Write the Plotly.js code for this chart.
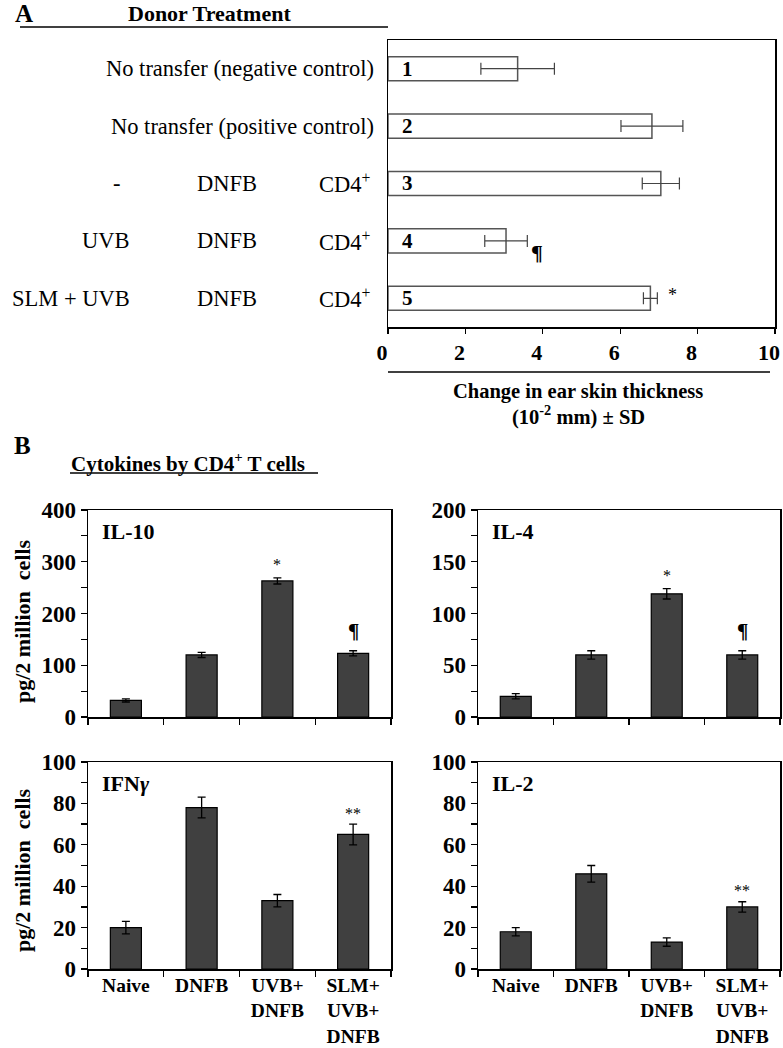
<!DOCTYPE html>
<html>
<head>
<meta charset="utf-8">
<script src="https://cdn.plot.ly/plotly-3.0.1.min.js"></script>
<style>html,body{margin:0;padding:0;background:#fff;}#chart{width:783px;height:1048px;}</style>
</head>
<body>
<div id="chart"></div>
<script>
// ---------- Panel A data ----------
const aRows = [0, 1, 2, 3, 4];
const aValues = [3.35, 6.82, 7.05, 3.05, 6.78];
const aErrors = [0.95, 0.8, 0.48, 0.55, 0.18];
const aBarLabels = ['1', '2', '3', '4', '5'];
const aFullLabels = ['No transfer (negative control)', 'No transfer (positive control)', null, null, null];
const aDonorCol1 = [null, null, '-', 'UVB', 'SLM + UVB'];
const aDonorCol2 = [null, null, 'DNFB', 'DNFB', 'DNFB'];
const aDonorCol3 = [null, null, 'CD4<sup>+</sup>', 'CD4<sup>+</sup>', 'CD4<sup>+</sup>'];
const aMarks = ['', '', '', '¶', '*'];
const aTicks = [0, 2, 4, 6, 8, 10];

// ---------- Panel B data ----------
const bCategories = ['Naive', 'DNFB', 'UVB+<br>DNFB', 'SLM+<br>UVB+<br>DNFB'];
const il10 = [32, 120, 263, 123];
const il10Err = [3, 5, 6, 5];
const il10Marks = ['', '', '*', '¶'];
const il4 = [20, 60, 119, 60];
const il4Err = [2.5, 4, 5, 4];
const il4Marks = ['', '', '*', '¶'];
const ifng = [20, 78, 33, 65];
const ifngErr = [3, 5, 3, 5];
const ifngMarks = ['', '', '', '**'];
const il2 = [18, 46, 13, 30];
const il2Err = [2, 4, 2, 2.5];
const il2Marks = ['', '', '', '**'];

// ---------- helpers ----------
const W = 783, H = 1048;
const px = v => v / W;
const py = v => 1 - v / H;
const SERIF = 'Liberation Serif';
const font = (size, bold) => ({family: SERIF, size: size, color: '#000000', weight: bold ? 'bold' : 'normal'});
const markOffset = {'*': 0.065, '**': 0.053, '¶': 0.097};

const traces = [];
const annotations = [];
const shapes = [];

// Panel A bars
traces.push({
  type: 'bar', orientation: 'h', x: aValues, y: aRows,
  xaxis: 'x', yaxis: 'y', width: 0.42,
  marker: {color: '#ffffff', line: {color: '#555555', width: 1.5}},
  error_x: {type: 'data', array: aErrors, visible: true, color: '#444444', thickness: 1.2, width: 6},
  hoverinfo: 'skip', showlegend: false
});
aRows.forEach((r, i) => {
  annotations.push({xref: 'x', yref: 'y', x: 0.5, y: r, text: '<b>' + aBarLabels[i] + '</b>', showarrow: false, font: font(21, true), xanchor: 'center', yanchor: 'middle'});
  if (aFullLabels[i]) annotations.push({xref: 'paper', yref: 'y', x: px(376), y: r, text: aFullLabels[i], showarrow: false, font: font(22.5, false), xanchor: 'right', yanchor: 'middle'});
  if (aDonorCol1[i]) {
    const isDash = aDonorCol1[i] === '-';
    annotations.push({xref: 'paper', yref: 'y', x: isDash ? px(117) : px(132), y: r, text: aDonorCol1[i], showarrow: false, font: font(22.5, false), xanchor: isDash ? 'center' : 'right', yanchor: 'middle'});
  }
  if (aDonorCol2[i]) annotations.push({xref: 'paper', yref: 'y', x: px(227), y: r, text: aDonorCol2[i], showarrow: false, font: font(22.5, false), xanchor: 'center', yanchor: 'middle'});
  if (aDonorCol3[i]) annotations.push({xref: 'paper', yref: 'y', x: px(373), y: r, text: aDonorCol3[i], showarrow: false, font: font(22.5, false), xanchor: 'right', yanchor: 'middle'});
  if (aMarks[i] === '¶') annotations.push({xref: 'x', yref: 'y', x: aValues[i] + aErrors[i] + 0.25, y: r + 0.2, text: '¶', showarrow: false, font: font(22, true), xanchor: 'center', yanchor: 'middle'});
  if (aMarks[i] === '*') annotations.push({xref: 'x', yref: 'y', x: aValues[i] + aErrors[i] + 0.4, y: r - 0.05, text: '*', showarrow: false, font: font(18, false), xanchor: 'center', yanchor: 'middle'});
});

// Panel A text
annotations.push({xref: 'paper', yref: 'paper', x: px(13), y: py(13), text: '<b>A</b>', showarrow: false, font: font(25, true), xanchor: 'left', yanchor: 'middle'});
annotations.push({xref: 'paper', yref: 'paper', x: px(209), y: py(13), text: '<b>Donor Treatment</b>', showarrow: false, font: font(22, true), xanchor: 'center', yanchor: 'middle'});
shapes.push({type: 'line', xref: 'paper', yref: 'paper', x0: px(20), x1: px(388), y0: py(27), y1: py(27), line: {color: '#000', width: 1.5}});
shapes.push({type: 'line', xref: 'paper', yref: 'paper', x0: px(388), x1: px(770), y0: py(372), y1: py(372), line: {color: '#000', width: 1.5}});
annotations.push({xref: 'paper', yref: 'paper', x: px(578), y: py(391), text: '<b>Change in ear skin thickness</b>', showarrow: false, font: font(20.5, true), xanchor: 'center', yanchor: 'middle'});
annotations.push({xref: 'paper', yref: 'paper', x: px(578), y: py(415), text: '<b>(10<sup>-2</sup> mm) ± SD</b>', showarrow: false, font: font(20.5, true), xanchor: 'center', yanchor: 'middle'});

// Panel B text
annotations.push({xref: 'paper', yref: 'paper', x: px(12), y: py(446), text: '<b>B</b>', showarrow: false, font: font(25, true), xanchor: 'left', yanchor: 'middle'});
annotations.push({xref: 'paper', yref: 'paper', x: px(69), y: py(462), text: '<b>Cytokines by CD4<sup>+</sup> T cells</b>', showarrow: false, font: font(21, true), xanchor: 'left', yanchor: 'middle'});
shapes.push({type: 'line', xref: 'paper', yref: 'paper', x0: px(70), x1: px(318), y0: py(473), y1: py(473), line: {color: '#000', width: 1.5}});

// Panel B subplots
const panels = [
  {name: 'IL-10', vals: il10, err: il10Err, marks: il10Marks, xa: 'x2', ya: 'y2', range: [0, 400], dtick: 100, minor: 50, bottom: false},
  {name: 'IL-4', vals: il4, err: il4Err, marks: il4Marks, xa: 'x3', ya: 'y3', range: [0, 200], dtick: 50, minor: 25, bottom: false},
  {name: 'IFN<i>γ</i>', vals: ifng, err: ifngErr, marks: ifngMarks, xa: 'x4', ya: 'y4', range: [0, 100], dtick: 20, minor: 10, bottom: true},
  {name: 'IL-2', vals: il2, err: il2Err, marks: il2Marks, xa: 'x5', ya: 'y5', range: [0, 100], dtick: 20, minor: 10, bottom: true}
];
panels.forEach(p => {
  traces.push({
    type: 'bar', x: bCategories, y: p.vals, xaxis: p.xa, yaxis: p.ya, width: 0.41,
    marker: {color: '#404040', line: {color: '#000', width: 1.2}},
    error_y: {type: 'data', array: p.err, visible: true, color: '#000', thickness: 1.3, width: 4},
    hoverinfo: 'skip', showlegend: false
  });
  annotations.push({xref: p.xa + ' domain', yref: p.ya + ' domain', x: 0.04, y: 0.894, text: '<b>' + p.name + '</b>', showarrow: false, font: font(22, true), xanchor: 'left', yanchor: 'middle'});
  p.marks.forEach((m, i) => {
    if (!m) return;
    const yv = p.vals[i] + p.err[i] + markOffset[m] * p.range[1];
    annotations.push({xref: p.xa, yref: p.ya, x: bCategories[i], y: yv, text: m === '¶' ? '<b>¶</b>' : m, showarrow: false, font: font(m === '¶' ? 21 : 16, m === '¶'), xanchor: 'center', yanchor: 'middle'});
  });
});
annotations.push({xref: 'paper', yref: 'paper', x: px(22), y: py(621), text: '<b>pg/2 million  cells</b>', textangle: -90, showarrow: false, font: font(22, true), xanchor: 'center', yanchor: 'middle'});
annotations.push({xref: 'paper', yref: 'paper', x: px(22), y: py(870), text: '<b>pg/2 million  cells</b>', textangle: -90, showarrow: false, font: font(22, true), xanchor: 'center', yanchor: 'middle'});

const axisLine = {showline: true, linecolor: '#000', linewidth: 1.5, mirror: true, showgrid: false, zeroline: false};
const layout = {
  width: W, height: H, margin: {l: 0, r: 0, t: 0, b: 0},
  paper_bgcolor: '#fff', plot_bgcolor: '#fff', showlegend: false, bargap: 0,
  font: {family: SERIF, color: '#000000'},
  xaxis: Object.assign({}, axisLine, {domain: [px(388), px(775)], anchor: 'y', range: [0, 10], tickvals: aTicks, ticks: 'outside', ticklen: 5, tickwidth: 1.2, tickcolor: '#000', tickfont: font(22, true), ticklabelshift: -6}),
  yaxis: Object.assign({}, axisLine, {domain: [py(327), py(40)], anchor: 'x', range: [4.5, -0.5], showticklabels: false, ticks: ''}),
  annotations: annotations, shapes: shapes
};
const bDom = {
  x2: [px(88), px(391)], x3: [px(478), px(780)], x4: [px(88), px(391)], x5: [px(478), px(780)],
  y2: [py(717), py(510)], y3: [py(717), py(510)], y4: [py(969), py(762)], y5: [py(969), py(762)]
};
panels.forEach(p => {
  const xk = 'xaxis' + p.xa.slice(1), yk = 'yaxis' + p.ya.slice(1);
  layout[xk] = Object.assign({}, axisLine, {domain: bDom[p.xa], anchor: p.ya, type: 'category', tickson: 'boundaries', ticks: 'outside', ticklen: 6, tickwidth: 1.2, tickcolor: '#000', showticklabels: p.bottom, tickfont: font(19.5, true), ticklabelstandoff: -2, ticklabeloverflow: 'allow', range: [-0.5, 3.5]});
  layout[yk] = Object.assign({}, axisLine, {domain: bDom[p.ya], anchor: p.xa, range: p.range, dtick: p.dtick, tick0: 0, ticks: 'outside', ticklen: 6, tickwidth: 1.2, tickcolor: '#000', tickfont: font(23, true), ticklabeloverflow: 'allow',
    minor: {dtick: p.minor, tick0: 0, ticks: 'outside', ticklen: 6, tickwidth: 1.2, tickcolor: '#000', showgrid: false}});
});

Plotly.newPlot('chart', traces, layout, {staticPlot: true, displayModeBar: false});
</script>
</body>
</html>
